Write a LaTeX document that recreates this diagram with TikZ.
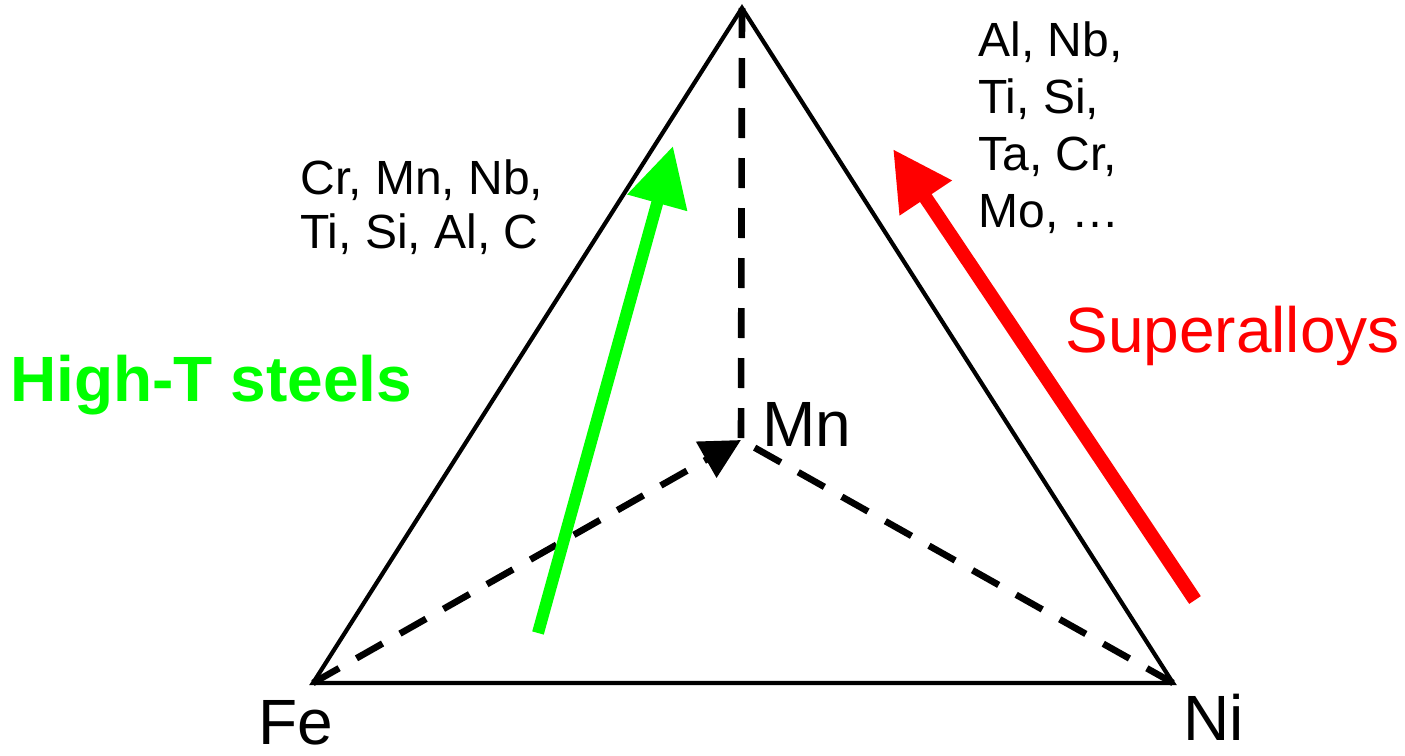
\documentclass[tikz,border=0pt]{standalone}
\usepackage{fontspec}
\setmainfont{Liberation Sans}
\usepackage{xcolor}
\usetikzlibrary{arrows.meta}

\begin{document}
\begin{tikzpicture}[
  x=0.5pt, y=-0.5pt,
  vertexlbl/.style={inner sep=0pt, anchor=base west, font=\fontsize{32}{36}\selectfont},
  elemlist/.style={inner sep=0pt, anchor=north west, align=left},
  edge/.style={line width=2.1pt, line join=miter},
  hidden/.style={line width=3.3pt, dash pattern=on 15pt off 10pt},
  trend/.style={-{Triangle[length=29.5pt,width=29.5pt]}}
]
\useasboundingbox (0,0) rectangle (1405,756);

\coordinate (fe) at (313,683);
\coordinate (ni) at (1173,683);
\coordinate (apex) at (742,8);
\coordinate (back) at (741,440);

\draw[edge] (fe) -- (ni) -- (apex) -- cycle;
\draw[hidden] (apex) -- (back);
\draw[hidden, shorten >=6pt] (ni) -- (back);
\draw[hidden, -{Triangle[length=20pt,width=20pt]}] (fe) -- (back);

\coordinate (gtail) at (538,633);
\coordinate (ghead) at (673,146);
\coordinate (rtail) at (1195,600);
\coordinate (rhead) at (893,149);
\draw[trend, green, line width=6pt] (gtail) -- (ghead);
\draw[trend, red, line width=7pt] (rtail) -- (rhead);

\node[vertexlbl] (felbl) at (258,744) {Fe};
\node[vertexlbl] (nilbl) at (1183,740) {Ni};
\node[vertexlbl] (mnlbl) at (762,446) {Mn};

\node[elemlist, font=\fontsize{24}{27}\selectfont] (steelel) at (300,159) {Cr, Mn, Nb,\\Ti, Si, Al, C};
\node[elemlist, font=\fontsize{24}{28.5}\selectfont] (superel) at (978,21) {Al, Nb,\\Ti, Si,\\Ta, Cr,\\Mo, …};

\node[vertexlbl, green, font=\fontsize{32}{36}\selectfont\bfseries] (steel) at (10,401) {High-T steels};
\node[vertexlbl, red] (super) at (1065,352) {Superalloys};
\end{tikzpicture}
\end{document}
